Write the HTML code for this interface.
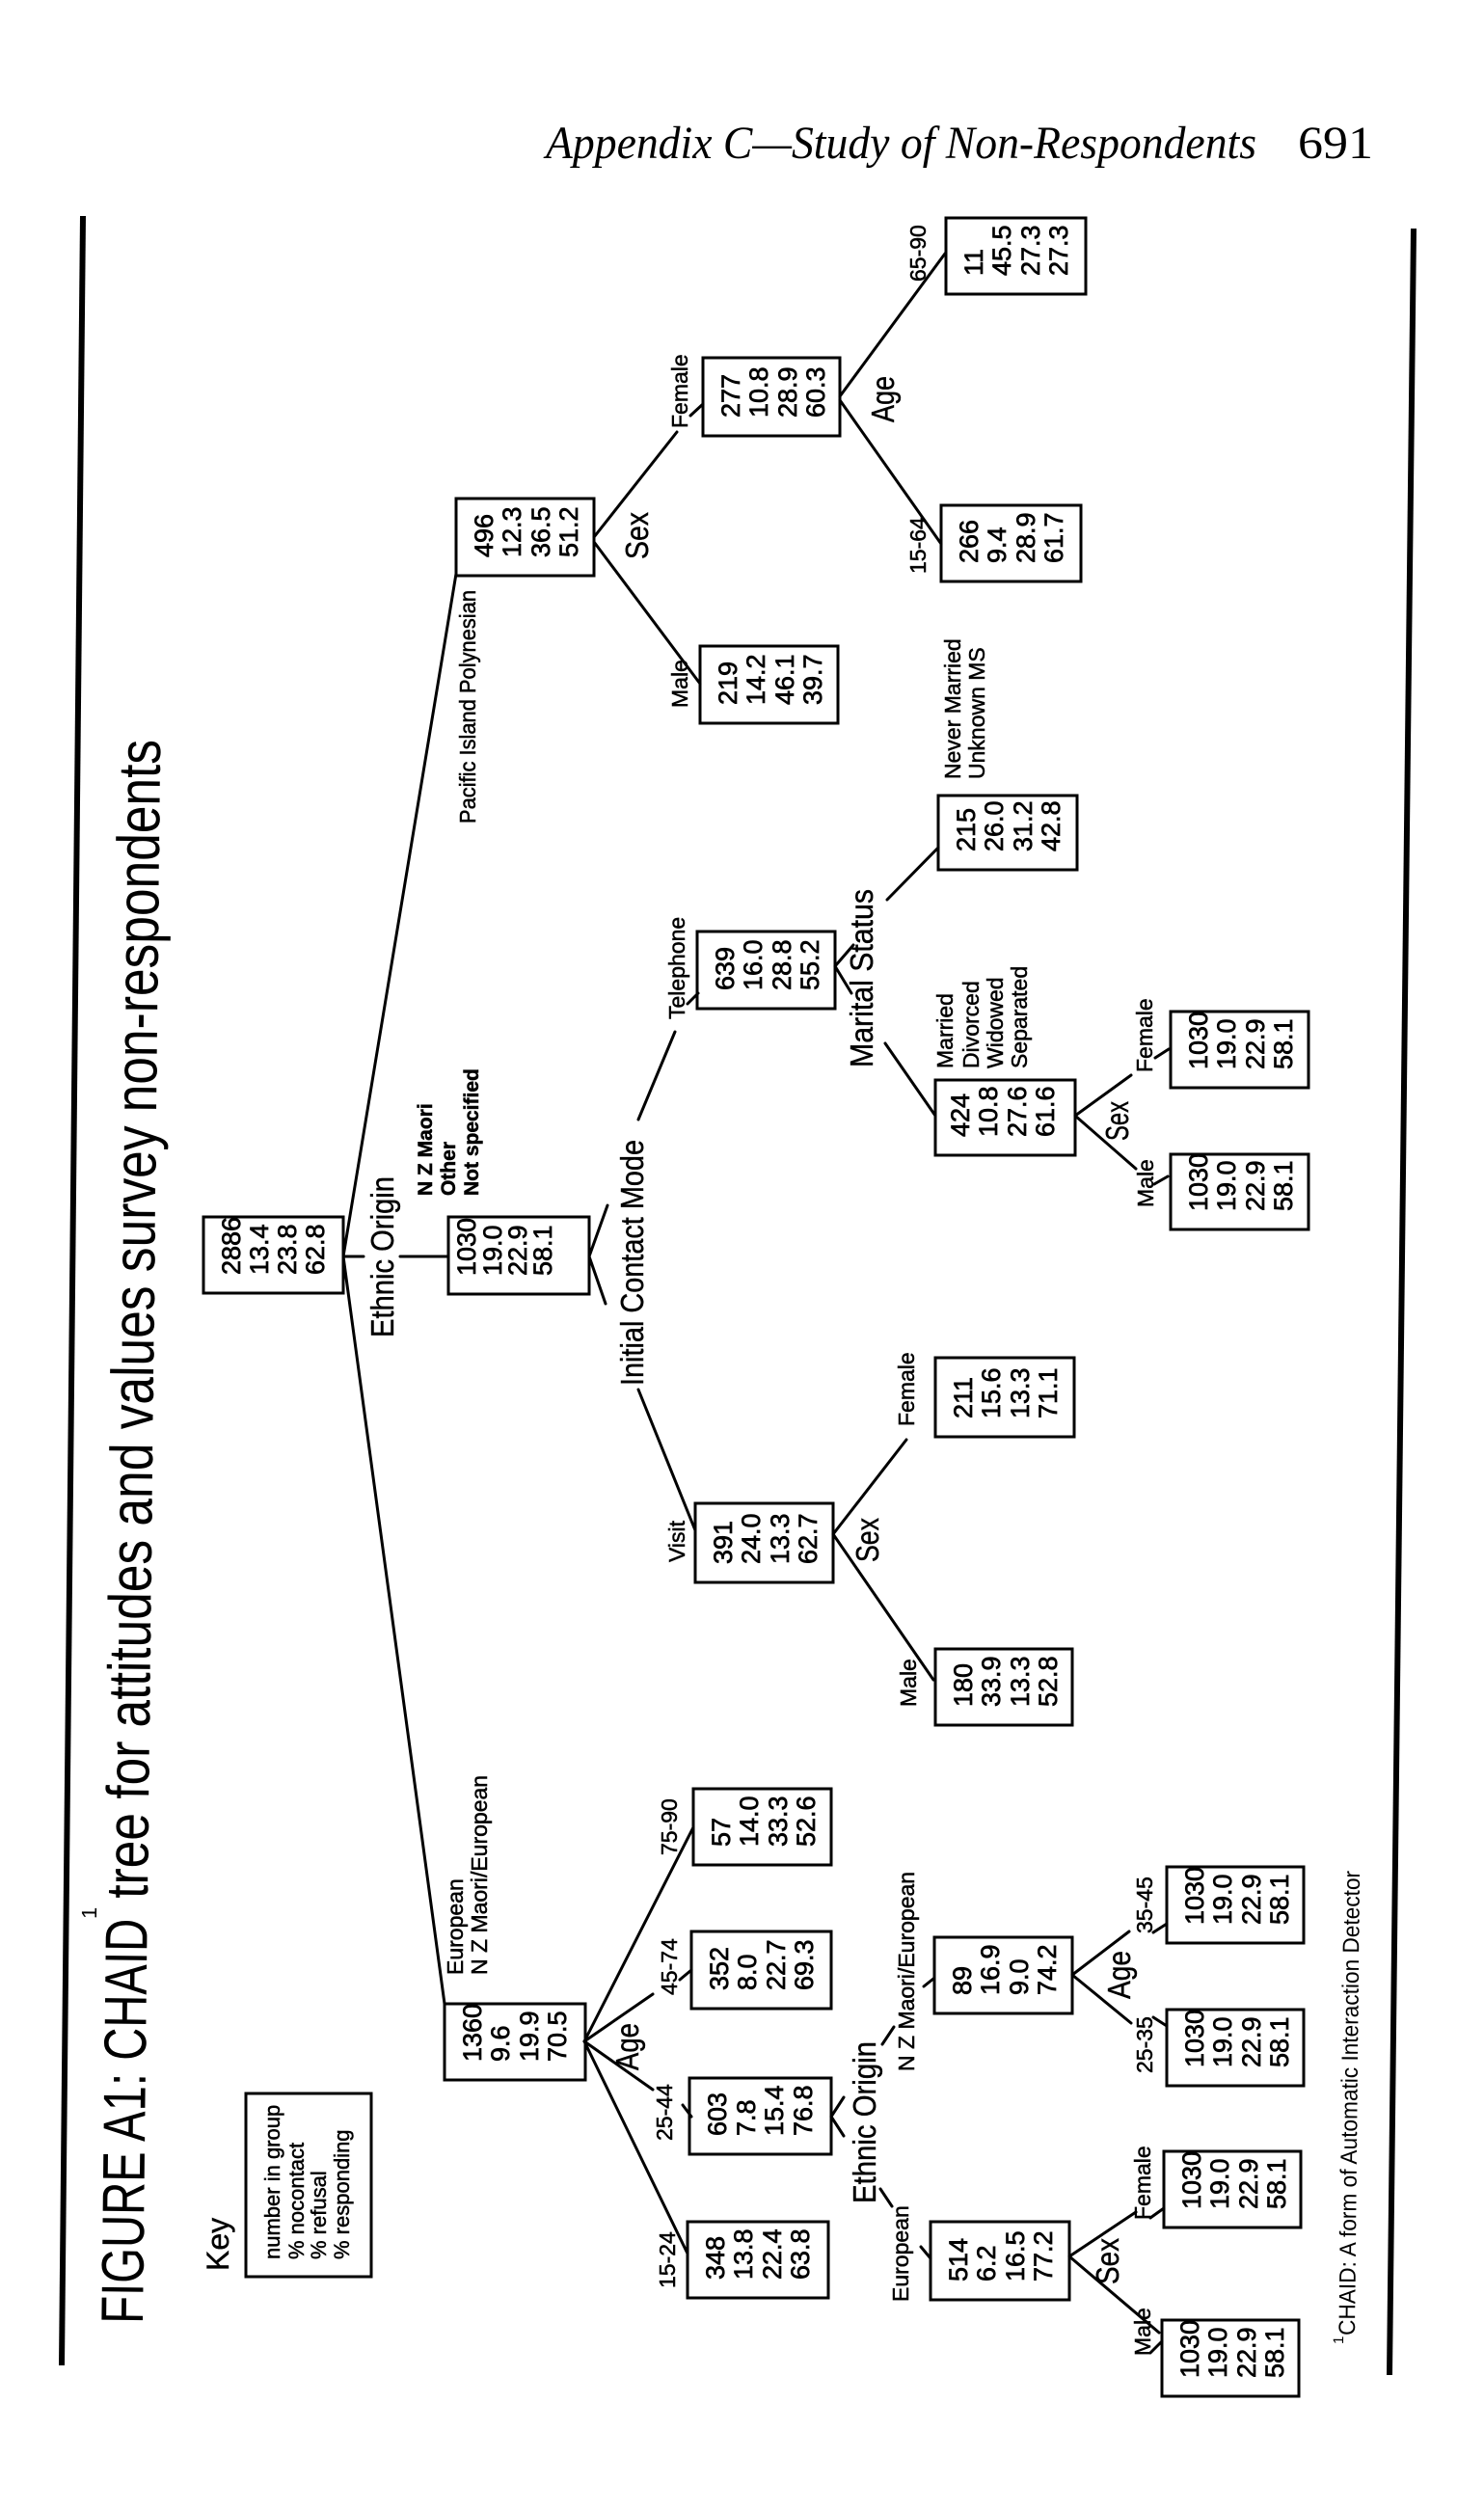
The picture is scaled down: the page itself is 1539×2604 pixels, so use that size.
<!DOCTYPE html>
<html><head><meta charset="utf-8"><style>
html,body{margin:0;padding:0;background:#fff;}
svg{display:block;}
.n{font-family:"Liberation Sans Narrow","Liberation Sans",sans-serif;fill:#000;}
.b{font-size:27px;stroke:#000;stroke-width:0.7px;}
.s{font-size:23px;stroke:#000;stroke-width:0.5px;}
.k{font-size:33px;stroke:#000;stroke-width:0.4px;}
.bd{font-weight:bold;}
</style></head><body>
<svg width="1539" height="2604" viewBox="0 0 1539 2604" xmlns="http://www.w3.org/2000/svg">
<rect width="1539" height="2604" fill="#fff"/>
<text x="566" y="164" font-family="Liberation Serif,serif" font-style="italic" font-size="48" textLength="737" lengthAdjust="spacingAndGlyphs">Appendix C—Study of Non-Respondents</text>
<text x="1346" y="164" font-family="Liberation Serif,serif" font-size="48" textLength="78" lengthAdjust="spacingAndGlyphs">691</text>
<line x1="86" y1="224" x2="64" y2="2453" stroke="#000" stroke-width="6"/>
<line x1="1466" y1="237" x2="1441" y2="2463" stroke="#000" stroke-width="6"/>
<g class="n">
<text transform="translate(148,2410) rotate(-89.37)" font-size="62" textLength="420" lengthAdjust="spacingAndGlyphs">FIGURE A1: CHAID</text>
<text transform="translate(100,1990) rotate(-89.37)" font-size="22">1</text>
<text transform="translate(153,1969) rotate(-89.37)" font-size="62" textLength="1202" lengthAdjust="spacingAndGlyphs">tree for attitudes and values survey non-respondents</text>
<text transform="translate(1393,2431) rotate(-89.4)" font-size="15">1</text>
<text transform="translate(1405,2422) rotate(-89.4)" font-size="24" textLength="482" lengthAdjust="spacingAndGlyphs">CHAID: A form of Automatic Interaction Detector</text>
</g>
<g fill="none" stroke="#000" stroke-width="3">
<rect x="981" y="226" width="145" height="79"/>
<rect x="729" y="371" width="142" height="81"/>
<rect x="473" y="517" width="143" height="80"/>
<rect x="976" y="524" width="145" height="79"/>
<rect x="726" y="670" width="143" height="80"/>
<rect x="973" y="825" width="144" height="77"/>
<rect x="723" y="966" width="143" height="80"/>
<rect x="1214" y="1049" width="143" height="79"/>
<rect x="970" y="1120" width="145" height="78"/>
<rect x="1214" y="1197" width="143" height="78"/>
<rect x="211" y="1262" width="145" height="79"/>
<rect x="465" y="1262" width="146" height="80"/>
<rect x="970" y="1408" width="144" height="82"/>
<rect x="721" y="1559" width="143" height="82"/>
<rect x="970" y="1710" width="142" height="79"/>
<rect x="719" y="1855" width="143" height="79"/>
<rect x="1210" y="1936" width="142" height="79"/>
<rect x="717" y="2003" width="145" height="80"/>
<rect x="969" y="2009" width="143" height="79"/>
<rect x="461" y="2078" width="146" height="79"/>
<rect x="715" y="2155" width="147" height="79"/>
<rect x="1210" y="2084" width="142" height="79"/>
<rect x="1207" y="2231" width="142" height="79"/>
<rect x="713" y="2304" width="146" height="79"/>
<rect x="965" y="2304" width="144" height="81"/>
<rect x="1205" y="2406" width="142" height="79"/>
<rect x="255" y="2171" width="130" height="190"/>
</g>
<g stroke="#000" stroke-width="3" fill="none" stroke-linecap="round">
<line x1="356" y1="1303" x2="473" y2="595"/>
<line x1="356" y1="1303" x2="461" y2="2078"/>
<line x1="356" y1="1303" x2="377" y2="1303"/>
<line x1="415" y1="1303" x2="465" y2="1303"/>
<line x1="611" y1="1303" x2="630" y2="1250"/>
<line x1="611" y1="1303" x2="628" y2="1352"/>
<line x1="662" y1="1161" x2="700" y2="1070"/>
<line x1="713" y1="1041" x2="724" y2="1030"/>
<line x1="662" y1="1441" x2="721" y2="1587"/>
<line x1="866" y1="1002" x2="885" y2="980"/>
<line x1="866" y1="1002" x2="883" y2="1030"/>
<line x1="920" y1="933" x2="973" y2="879"/>
<line x1="918" y1="1082" x2="970" y2="1157"/>
<line x1="1115" y1="1157" x2="1173" y2="1115"/>
<line x1="1115" y1="1157" x2="1178" y2="1212"/>
<line x1="1198" y1="1097" x2="1212" y2="1088"/>
<line x1="1197" y1="1228" x2="1211" y2="1220"/>
<line x1="616" y1="557" x2="702" y2="448"/>
<line x1="616" y1="562" x2="726" y2="709"/>
<line x1="716" y1="431" x2="729" y2="419"/>
<line x1="871" y1="411" x2="980" y2="263"/>
<line x1="871" y1="415" x2="976" y2="564"/>
<line x1="864" y1="1591" x2="940" y2="1493"/>
<line x1="864" y1="1591" x2="968" y2="1742"/>
<line x1="606" y1="2117" x2="719" y2="1895"/>
<line x1="606" y1="2117" x2="677" y2="2068"/>
<line x1="606" y1="2117" x2="677" y2="2167"/>
<line x1="606" y1="2117" x2="713" y2="2337"/>
<line x1="705" y1="2053" x2="717" y2="2043"/>
<line x1="708" y1="2183" x2="717" y2="2195"/>
<line x1="862" y1="2195" x2="875" y2="2175"/>
<line x1="862" y1="2195" x2="875" y2="2215"/>
<line x1="915" y1="2120" x2="927" y2="2102"/>
<line x1="913" y1="2270" x2="925" y2="2288"/>
<line x1="958" y1="2060" x2="968" y2="2052"/>
<line x1="955" y1="2330" x2="965" y2="2342"/>
<line x1="1112" y1="2048" x2="1171" y2="2003"/>
<line x1="1112" y1="2048" x2="1173" y2="2098"/>
<line x1="1196" y1="2004" x2="1210" y2="1995"/>
<line x1="1196" y1="2092" x2="1210" y2="2101"/>
<line x1="1109" y1="2340" x2="1178" y2="2294"/>
<line x1="1109" y1="2340" x2="1202" y2="2419"/>
<line x1="1193" y1="2300" x2="1207" y2="2290"/>
<line x1="1193" y1="2440" x2="1205" y2="2428"/>
</g>
<g class="n b">
<text transform="translate(1019,286) rotate(-90)">11</text><text transform="translate(1048,286) rotate(-90)">45.5</text><text transform="translate(1078,286) rotate(-90)">27.3</text><text transform="translate(1107,286) rotate(-90)">27.3</text>
<text transform="translate(767,433) rotate(-90)">277</text><text transform="translate(796,433) rotate(-90)">10.8</text><text transform="translate(826,433) rotate(-90)">28.9</text><text transform="translate(855,433) rotate(-90)">60.3</text>
<text transform="translate(511,578) rotate(-90)">496</text><text transform="translate(540,578) rotate(-90)">12.3</text><text transform="translate(570,578) rotate(-90)">36.5</text><text transform="translate(599,578) rotate(-90)">51.2</text>
<text transform="translate(1014,584) rotate(-90)">266</text><text transform="translate(1043,584) rotate(-90)">9.4</text><text transform="translate(1073,584) rotate(-90)">28.9</text><text transform="translate(1102,584) rotate(-90)">61.7</text>
<text transform="translate(764,731) rotate(-90)">219</text><text transform="translate(793,731) rotate(-90)">14.2</text><text transform="translate(823,731) rotate(-90)">46.1</text><text transform="translate(852,731) rotate(-90)">39.7</text>
<text transform="translate(1011,883) rotate(-90)">215</text><text transform="translate(1040,883) rotate(-90)">26.0</text><text transform="translate(1070,883) rotate(-90)">31.2</text><text transform="translate(1099,883) rotate(-90)">42.8</text>
<text transform="translate(761,1027) rotate(-90)">639</text><text transform="translate(790,1027) rotate(-90)">16.0</text><text transform="translate(820,1027) rotate(-90)">28.8</text><text transform="translate(849,1027) rotate(-90)">55.2</text>
<text transform="translate(1252,1109) rotate(-90)">1030</text><text transform="translate(1281,1109) rotate(-90)">19.0</text><text transform="translate(1311,1109) rotate(-90)">22.9</text><text transform="translate(1340,1109) rotate(-90)">58.1</text>
<text transform="translate(1005,1179) rotate(-90)">424</text><text transform="translate(1034,1179) rotate(-90)">10.8</text><text transform="translate(1064,1179) rotate(-90)">27.6</text><text transform="translate(1093,1179) rotate(-90)">61.6</text>
<text transform="translate(1252,1256) rotate(-90)">1030</text><text transform="translate(1281,1256) rotate(-90)">19.0</text><text transform="translate(1311,1256) rotate(-90)">22.9</text><text transform="translate(1340,1256) rotate(-90)">58.1</text>
<text transform="translate(249,1322) rotate(-90)">2886</text><text transform="translate(278,1322) rotate(-90)">13.4</text><text transform="translate(307,1322) rotate(-90)">23.8</text><text transform="translate(336,1322) rotate(-90)">62.8</text>
<text transform="translate(493,1323) rotate(-90)">1030</text><text transform="translate(520,1323) rotate(-90)">19.0</text><text transform="translate(546,1323) rotate(-90)">22.9</text><text transform="translate(572,1323) rotate(-90)">58.1</text>
<text transform="translate(1008,1471) rotate(-90)">211</text><text transform="translate(1037,1471) rotate(-90)">15.6</text><text transform="translate(1067,1471) rotate(-90)">13.3</text><text transform="translate(1096,1471) rotate(-90)">71.1</text>
<text transform="translate(759,1622) rotate(-90)">391</text><text transform="translate(788,1622) rotate(-90)">24.0</text><text transform="translate(818,1622) rotate(-90)">13.3</text><text transform="translate(847,1622) rotate(-90)">62.7</text>
<text transform="translate(1008,1770) rotate(-90)">180</text><text transform="translate(1037,1770) rotate(-90)">33.9</text><text transform="translate(1067,1770) rotate(-90)">13.3</text><text transform="translate(1096,1770) rotate(-90)">52.8</text>
<text transform="translate(757,1915) rotate(-90)">57</text><text transform="translate(786,1915) rotate(-90)">14.0</text><text transform="translate(816,1915) rotate(-90)">33.3</text><text transform="translate(845,1915) rotate(-90)">52.6</text>
<text transform="translate(1248,1996) rotate(-90)">1030</text><text transform="translate(1277,1996) rotate(-90)">19.0</text><text transform="translate(1307,1996) rotate(-90)">22.9</text><text transform="translate(1336,1996) rotate(-90)">58.1</text>
<text transform="translate(755,2064) rotate(-90)">352</text><text transform="translate(784,2064) rotate(-90)">8.0</text><text transform="translate(814,2064) rotate(-90)">22.7</text><text transform="translate(843,2064) rotate(-90)">69.3</text>
<text transform="translate(1007,2069) rotate(-90)">89</text><text transform="translate(1036,2069) rotate(-90)">16.9</text><text transform="translate(1066,2069) rotate(-90)">9.0</text><text transform="translate(1095,2069) rotate(-90)">74.2</text>
<text transform="translate(499,2138) rotate(-90)">1360</text><text transform="translate(528,2138) rotate(-90)">9.6</text><text transform="translate(558,2138) rotate(-90)">19.9</text><text transform="translate(587,2138) rotate(-90)">70.5</text>
<text transform="translate(753,2215) rotate(-90)">603</text><text transform="translate(783,2215) rotate(-90)">7.8</text><text transform="translate(812,2215) rotate(-90)">15.4</text><text transform="translate(842,2215) rotate(-90)">76.8</text>
<text transform="translate(1248,2144) rotate(-90)">1030</text><text transform="translate(1277,2144) rotate(-90)">19.0</text><text transform="translate(1307,2144) rotate(-90)">22.9</text><text transform="translate(1336,2144) rotate(-90)">58.1</text>
<text transform="translate(1245,2291) rotate(-90)">1030</text><text transform="translate(1274,2291) rotate(-90)">19.0</text><text transform="translate(1304,2291) rotate(-90)">22.9</text><text transform="translate(1333,2291) rotate(-90)">58.1</text>
<text transform="translate(751,2364) rotate(-90)">348</text><text transform="translate(780,2364) rotate(-90)">13.8</text><text transform="translate(810,2364) rotate(-90)">22.4</text><text transform="translate(839,2364) rotate(-90)">63.8</text>
<text transform="translate(1003,2366) rotate(-90)">514</text><text transform="translate(1032,2366) rotate(-90)">6.2</text><text transform="translate(1062,2366) rotate(-90)">16.5</text><text transform="translate(1091,2366) rotate(-90)">77.2</text>
<text transform="translate(1243,2466) rotate(-90)">1030</text><text transform="translate(1272,2466) rotate(-90)">19.0</text><text transform="translate(1302,2466) rotate(-90)">22.9</text><text transform="translate(1331,2466) rotate(-90)">58.1</text>
</g>
<g class="n s">
<text transform="translate(960,292) rotate(-90)">65-90</text>
<text transform="translate(960,595) rotate(-90)">15-64</text>
<text transform="translate(713,444) rotate(-90)">Female</text>
<text transform="translate(713,734) rotate(-90)">Male</text>
<text transform="translate(493,854) rotate(-90)" textLength="242" lengthAdjust="spacingAndGlyphs">Pacific Island Polynesian</text>
<text class="bd" font-size="21" transform="translate(448,1240) rotate(-90)">N Z Maori</text>
<text class="bd" font-size="21" transform="translate(472,1240) rotate(-90)">Other</text>
<text class="bd" font-size="21" transform="translate(496,1240) rotate(-90)">Not specified</text>
<text transform="translate(710,1057) rotate(-90)">Telephone</text>
<text transform="translate(710,1620) rotate(-90)">Visit</text>
<text transform="translate(996,808) rotate(-90)">Never Married</text>
<text transform="translate(1021,808) rotate(-90)">Unknown MS</text>
<text transform="translate(988,1108) rotate(-90)">Married</text>
<text transform="translate(1015,1108) rotate(-90)">Divorced</text>
<text transform="translate(1040,1108) rotate(-90)">Widowed</text>
<text transform="translate(1065,1108) rotate(-90)">Separated</text>
<text transform="translate(1195,1112) rotate(-90)">Female</text>
<text transform="translate(1196,1252) rotate(-90)">Male</text>
<text transform="translate(948,1479) rotate(-90)">Female</text>
<text transform="translate(950,1770) rotate(-90)">Male</text>
<text transform="translate(480,2048) rotate(-90)">European</text>
<text transform="translate(505,2048) rotate(-90)">N Z Maori/European</text>
<text transform="translate(702,1924) rotate(-90)">75-90</text>
<text transform="translate(702,2069) rotate(-90)">45-74</text>
<text transform="translate(697,2220) rotate(-90)">25-44</text>
<text transform="translate(700,2373) rotate(-90)">15-24</text>
<text transform="translate(948,2148) rotate(-90)">N Z Maori/European</text>
<text transform="translate(942,2387) rotate(-90)">European</text>
<text transform="translate(1195,2005) rotate(-90)">35-45</text>
<text transform="translate(1195,2150) rotate(-90)">25-35</text>
<text transform="translate(1193,2302) rotate(-90)">Female</text>
<text transform="translate(1193,2443) rotate(-90)">Male</text>
<text font-size="22" transform="translate(290,2343) rotate(-90)">number in group</text>
<text font-size="22" transform="translate(315,2343) rotate(-90)">% nocontact</text>
<text font-size="22" transform="translate(338,2343) rotate(-90)">% refusal</text>
<text font-size="22" transform="translate(362,2343) rotate(-90)">% responding</text>
</g>
<g class="n k">
<text transform="translate(927,438) rotate(-90)" textLength="48" lengthAdjust="spacingAndGlyphs">Age</text>
<text transform="translate(672,580) rotate(-90)" textLength="49" lengthAdjust="spacingAndGlyphs">Sex</text>
<text transform="translate(408,1387) rotate(-90)" textLength="167" lengthAdjust="spacingAndGlyphs">Ethnic Origin</text>
<text transform="translate(667,1437) rotate(-90)" textLength="255" lengthAdjust="spacingAndGlyphs">Initial Contact Mode</text>
<text transform="translate(905,1107) rotate(-90)" textLength="185" lengthAdjust="spacingAndGlyphs">Marital Status</text>
<text transform="translate(1170,1183) rotate(-90)" textLength="41" lengthAdjust="spacingAndGlyphs">Sex</text>
<text transform="translate(911,1620) rotate(-90)" textLength="46" lengthAdjust="spacingAndGlyphs">Sex</text>
<text transform="translate(662,2147) rotate(-90)" textLength="49" lengthAdjust="spacingAndGlyphs">Age</text>
<text transform="translate(908,2285) rotate(-90)" textLength="168" lengthAdjust="spacingAndGlyphs">Ethnic Origin</text>
<text transform="translate(1172,2073) rotate(-90)" textLength="50" lengthAdjust="spacingAndGlyphs">Age</text>
<text transform="translate(1160,2369) rotate(-90)" textLength="48" lengthAdjust="spacingAndGlyphs">Sex</text>
<text transform="translate(237,2355) rotate(-90)" font-size="32">Key</text>
</g>
</svg>
</body></html>
